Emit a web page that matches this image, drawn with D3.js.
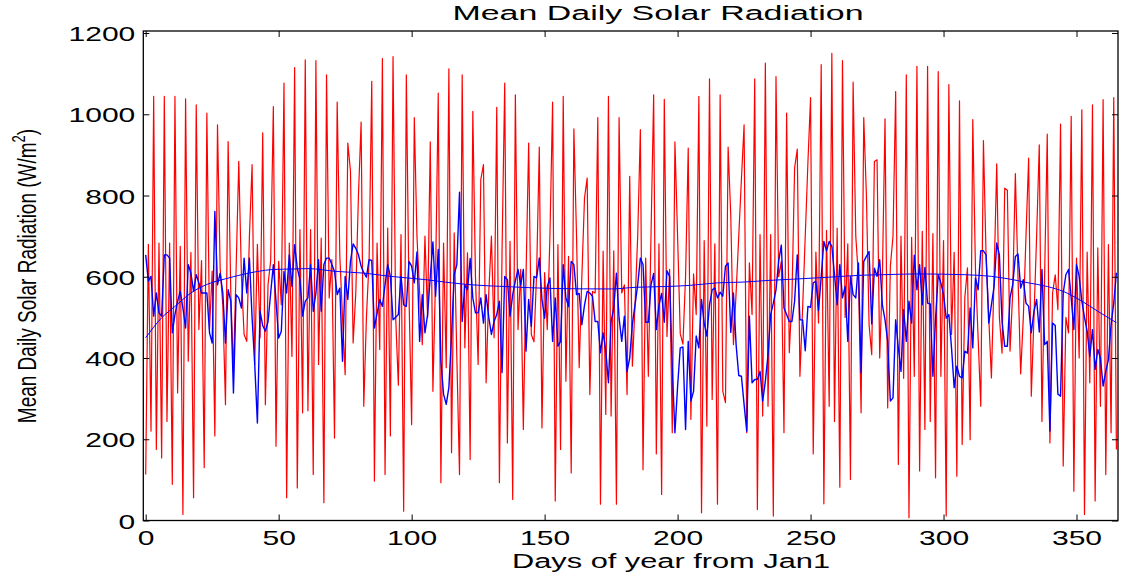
<!DOCTYPE html>
<html><head><meta charset="utf-8">
<script src="https://cdn.jsdelivr.net/npm/d3@7"></script>
<style>body{margin:0;background:#fff}svg{display:block}</style>
</head><body><svg id="c" width="1121" height="577"></svg>
<script>
// daily radiation (red), day index 0..365
const redDaily = [
113,680,220,1044,175,683,154,1044,244,683,
89,1044,314,675,15,1038,392,660,56,1023,
470,640,130,1003,470,614,208,974,620,530,
285,933,560,367,620,884,600,458,441,700,
876,384,680,450,954,285,581,640,1019,183,
638,531,1077,56,683,404,1115,80,716,265,
1134,270,716,113,1132,384,695,44,1097,548,
642,203,1030,650,500,359,929,860,437,560,
800,981,281,500,640,1081,97,683,421,1137,
113,720,208,1142,500,333,704,23,1097,556,
236,992,700,560,433,700,500,932,318,600,
1052,93,683,376,1112,167,708,400,113,1097,
425,659,150,1007,600,384,839,876,339,560,
700,450,1017,93,667,1077,191,687,52,1048,
470,618,224,600,929,458,440,610,919,228,
610,470,700,1030,48,679,175,1044,343,650,
117,964,700,376,600,794,843,310,564,560,
992,40,663,261,1044,257,664,40,992,560,
580,310,847,380,531,700,962,125,646,355,
700,1048,164,681,64,1037,453,618,216,932,
700,460,434,600,917,249,607,507,1044,19,
689,232,1087,298,681,40,1048,318,290,919,
750,433,560,700,840,974,216,634,507,1087,
27,704,257,1126,281,704,11,1093,600,638,
216,1003,413,550,868,914,355,520,700,880,
1041,164,661,486,1122,41,714,281,1150,244,
720,82,1132,500,681,101,1079,700,600,265,
992,800,482,408,884,888,400,600,989,277,
626,700,1056,138,700,350,1097,7,697,355,
1118,122,712,224,1118,244,706,105,1105,355,
689,11,1073,458,660,109,1033,187,548,622,
199,987,620,450,281,935,650,500,351,600,
878,500,412,818,813,417,560,854,600,361,
500,700,892,306,500,700,925,244,601,951,
191,560,605,519,976,134,500,462,995,72,
646,400,1011,15,661,339,1023,48,671,281,
1036,113,679,216,1041,175];

// daily radiation (blue), day index 0..365
const blueDaily = [
654,589,601,503,560,511,503,654,654,646,
462,507,540,564,523,474,630,609,564,605,
585,560,560,560,462,437,761,580,609,560,
437,568,540,314,556,548,523,646,560,646,
500,384,240,515,480,466,490,560,630,540,
449,466,613,560,654,576,679,621,593,503,
540,548,630,515,560,642,515,630,646,646,
630,613,556,572,392,601,544,638,681,670,
654,626,610,599,642,640,474,510,544,527,
580,630,601,494,500,507,601,531,527,638,
626,585,661,441,556,462,507,600,686,552,
667,392,311,286,327,454,605,630,808,490,
580,568,645,548,511,511,548,486,556,500,
458,490,507,540,364,601,593,503,556,590,
618,580,618,417,544,478,601,597,646,544,
498,576,597,441,548,429,441,630,548,527,
638,630,556,559,482,530,564,560,552,490,
490,413,462,417,339,490,523,609,498,441,
503,367,400,484,531,580,646,630,488,488,
580,608,470,530,559,488,615,601,376,216,
330,425,427,224,441,294,318,454,425,544,
486,454,531,568,572,548,562,552,626,634,
463,560,433,357,355,286,220,503,339,347,
347,367,294,343,408,507,535,568,638,678,
523,507,490,490,540,654,494,494,418,527,
525,585,589,517,600,687,664,687,675,605,
531,630,548,576,441,601,556,548,634,364,
638,650,662,484,621,601,642,531,494,441,
294,302,494,425,367,519,441,540,486,653,
568,630,531,623,535,533,355,498,605,585,
556,498,507,425,327,380,355,351,417,412,
523,425,597,568,664,664,654,486,531,576,
683,654,490,429,429,548,580,650,656,572,
593,535,527,462,515,544,464,618,433,441,
220,486,480,311,306,560,605,618,548,470,
630,601,540,500,466,404,470,372,421,400,
331,367,396,482,535,610];

// smoothed seasonal curve (blue, thin)
const trendDays = [0,6,11,17,23,30,36,42,48,55,61,72,82,92,105,115,123,135,154,175,184,196,205,215,225,234,246,257,270,277,290,308,318,326,332,339,345,352,358,365];
const trendVals = [450,499,527,560,581,595,605,613,618,619,620,613,609,601,593,585,580,576,571,570,574,576,579,585,587,591,595,599,604,605,607,605,601,593,585,576,564,540,515,487];

const xTicks = [0,50,100,150,200,250,300,350];
const yTicks = [0,200,400,600,800,1000,1200];
const titleText = "Mean Daily Solar Radiation";
const xLabelText = "Days of year from Jan1";
const yLabelMain = "Mean Daily Solar Radiation (W/m";
const yLabelSup = "2";
const yLabelEnd = ")";

const svg = d3.select("#c");
const L = 143.3, R = 1118, T = 31, B = 520.5;
const x = d3.scaleLinear().domain([-0.9, 365.6]).range([L, R]);
const y = d3.scaleLinear().domain([0, 1205]).range([B, T]);
const FONT = "'Liberation Sans', Arial, sans-serif";
const DIGIT_W = 16.7;

svg.append("defs").append("clipPath").attr("id", "clip")
  .append("rect").attr("x", L).attr("y", T).attr("width", R - L).attr("height", B - T);

const plot = svg.append("g").attr("clip-path", "url(#clip)");
const line = d3.line().x((d, i) => x(i)).y(d => y(d));

plot.append("path").datum(redDaily).attr("d", line)
  .attr("fill", "none").attr("stroke", "#ff0000").attr("stroke-width", 1.2).attr("stroke-linejoin", "round");
plot.append("path").datum(blueDaily).attr("d", line)
  .attr("fill", "none").attr("stroke", "#0000ff").attr("stroke-width", 1.4).attr("stroke-linejoin", "round");
const trend = trendDays.map((d, i) => [d, trendVals[i]]);
plot.append("path").datum(trend)
  .attr("d", d3.line().x(d => x(d[0])).y(d => y(d[1])).curve(d3.curveMonotoneX))
  .attr("fill", "none").attr("stroke", "#0000ff").attr("stroke-width", 1);

// axes (inward ticks on all four sides)
const gB = svg.append("g").attr("transform", `translate(0,${B})`)
  .call(d3.axisBottom(x).tickValues(xTicks).tickSize(-6).tickFormat(d3.format("d")));
const gT = svg.append("g").attr("transform", `translate(0,${T})`)
  .call(d3.axisTop(x).tickValues(xTicks).tickSize(-6).tickFormat(""));
const gL = svg.append("g").attr("transform", `translate(${L},0)`)
  .call(d3.axisLeft(y).tickValues(yTicks).tickSize(-6).tickFormat(d3.format("d")));
const gR = svg.append("g").attr("transform", `translate(${R},0)`)
  .call(d3.axisRight(y).tickValues(yTicks).tickSize(-6).tickFormat(""));
[gB, gT, gL, gR].forEach(g => {
  g.select(".domain").remove();
  g.selectAll(".tick line").attr("stroke", "#000").attr("stroke-width", 1);
});
gB.selectAll(".tick text")
  .attr("y", 24.5).attr("dy", 0)
  .attr("font-family", FONT).attr("font-size", 21).attr("fill", "#000")
  .attr("textLength", function(d){ return String(d).length * DIGIT_W; })
  .attr("lengthAdjust", "spacingAndGlyphs");
gL.selectAll(".tick text")
  .attr("x", -8).attr("dy", "0.36em")
  .attr("font-family", FONT).attr("font-size", 21).attr("fill", "#000")
  .attr("textLength", function(d){ return String(d).length * DIGIT_W; })
  .attr("lengthAdjust", "spacingAndGlyphs");

// frame
svg.append("rect").attr("x", L).attr("y", T).attr("width", R - L).attr("height", B - T)
  .attr("fill", "none").attr("stroke", "#000").attr("stroke-width", 1.3);

// title & labels
svg.append("text").attr("x", 658).attr("y", 19.5).attr("text-anchor", "middle")
  .attr("font-family", FONT).attr("font-size", 20).attr("fill", "#000")
  .attr("textLength", 411).attr("lengthAdjust", "spacingAndGlyphs").text(titleText);
svg.append("text").attr("x", 671).attr("y", 568).attr("text-anchor", "middle")
  .attr("font-family", FONT).attr("font-size", 20).attr("fill", "#000")
  .attr("textLength", 318).attr("lengthAdjust", "spacingAndGlyphs").text(xLabelText);

const yl = svg.append("text")
  .attr("transform", "translate(36,276) rotate(-90) scale(1,1.35)")
  .attr("text-anchor", "middle")
  .attr("font-family", FONT).attr("font-size", 19).attr("fill", "#000");
yl.append("tspan").text(yLabelMain);
yl.append("tspan").attr("font-size", 13).attr("dy", -8).text(yLabelSup);
yl.append("tspan").attr("dy", 8).text(yLabelEnd);
</script></body></html>
